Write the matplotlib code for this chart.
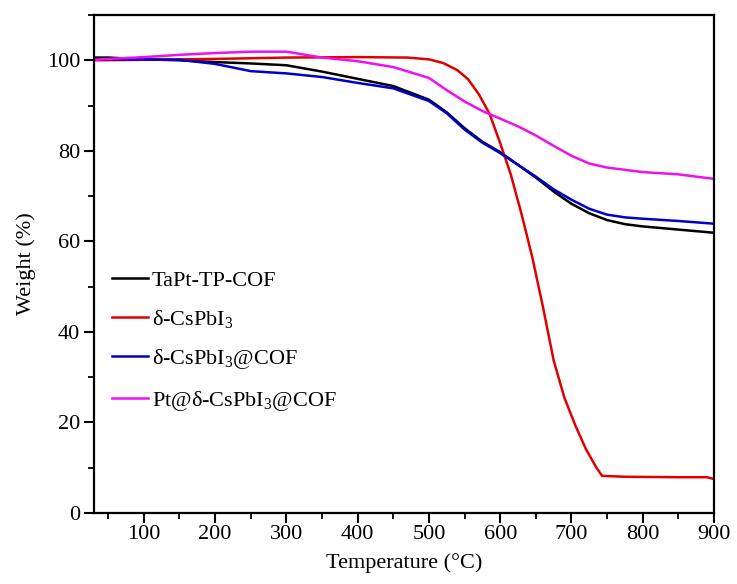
import matplotlib
matplotlib.use("Agg")
import matplotlib.pyplot as plt
from matplotlib.ticker import MultipleLocator

plt.rcParams['font.family'] = ['Liberation Serif', 'DejaVu Serif']
plt.rcParams['mathtext.fontset'] = 'custom'
plt.rcParams['mathtext.rm'] = 'Liberation Serif'
plt.rcParams['mathtext.it'] = 'Liberation Serif:italic'
plt.rcParams['mathtext.bf'] = 'Liberation Serif:bold'

# Temperature grid (°C) shared by three series
temps = [30, 50, 100, 150, 200, 250, 300, 350, 400, 450, 500, 525, 550, 575,
         600, 625, 650, 675, 700, 725, 750, 775, 800, 850, 900]

tapt_cof = [100.6, 100.6, 100.2, 100.0, 99.6, 99.3, 98.9, 97.5, 95.9, 94.3, 91.3,
            88.5, 85.0, 82.0, 79.7, 76.9, 74.1, 71.0, 68.3, 66.2, 64.7, 63.8,
            63.3, 62.6, 61.9]

cspbi3_cof = [100.2, 100.2, 100.2, 100.1, 99.2, 97.6, 97.1, 96.3, 95.0, 93.8, 91.0,
              88.3, 84.7, 81.8, 79.5, 76.9, 74.3, 71.5, 69.2, 67.2, 65.9, 65.3,
              65.0, 64.5, 63.9]

pt_cspbi3_cof = [100.1, 100.3, 100.7, 101.2, 101.6, 101.9, 101.9, 100.6, 99.8, 98.5,
                 96.1, 93.4, 90.9, 88.8, 87.1, 85.4, 83.4, 81.1, 78.9, 77.2, 76.3,
                 75.8, 75.3, 74.8, 73.8]

# delta-CsPbI3 has its own temperature points (sharp knee near 743 °C)
temps_cspbi3 = [30, 100, 200, 300, 400, 470, 500, 520, 540, 555, 570, 585, 600,
                615, 630, 645, 660, 675, 690, 705, 720, 735, 743, 775, 850, 890, 900]
cspbi3 = [100.0, 100.1, 100.3, 100.6, 100.7, 100.6, 100.2, 99.4, 97.8, 95.8, 92.5,
          88.2, 81.7, 74.7, 66.0, 56.5, 45.5, 33.7, 25.5, 19.5, 14.2, 10.0, 8.2,
          8.0, 7.9, 7.9, 7.5]

labels = ['TaPt-TP-COF', 'δ-CsPbI$_3$', 'δ-CsPbI$_3$@COF', 'Pt@δ-CsPbI$_3$@COF']
colors = ['#000000', '#e00000', '#0000cc', '#ee10ee']

fig = plt.figure(figsize=(7.37, 5.84), dpi=100)
ax = fig.add_axes([0.1275, 0.1216, 0.8413, 0.8527])

ax.plot(temps, tapt_cof, color=colors[0], lw=1.8, label=labels[0])
ax.plot(temps_cspbi3, cspbi3, color=colors[1], lw=1.8, label=labels[1])
ax.plot(temps, cspbi3_cof, color=colors[2], lw=1.8, label=labels[2])
ax.plot(temps, pt_cspbi3_cof, color=colors[3], lw=1.8, label=labels[3])

ax.set_xlim(30, 900)
ax.set_ylim(0, 110)
ax.xaxis.set_major_locator(MultipleLocator(100))
ax.xaxis.set_minor_locator(MultipleLocator(50))
ax.yaxis.set_major_locator(MultipleLocator(20))
ax.yaxis.set_minor_locator(MultipleLocator(10))
ax.set_yticks([0, 20, 40, 60, 80, 100])

for s in ax.spines.values():
    s.set_linewidth(1.6)

ax.tick_params(which='major', direction='out', length=7, width=1.5,
               labelsize=16, top=False, right=False)
ax.tick_params(which='minor', direction='out', length=4, width=1.3,
               top=False, right=False)
ax.tick_params(axis='x', which='major', pad=2)
ax.tick_params(axis='y', which='major', pad=3)

ax.set_xlabel('Temperature (°C)', fontsize=16, labelpad=6)
ax.set_ylabel('Weight (%)', fontsize=16, labelpad=8)

ax.legend(loc='upper left', bbox_to_anchor=(0.029, 0.488), frameon=False,
          fontsize=16, handlelength=1.6, handletextpad=0.2,
          labelspacing=0.78, borderaxespad=0, borderpad=0)

fig.savefig('out.png', dpi=100)
